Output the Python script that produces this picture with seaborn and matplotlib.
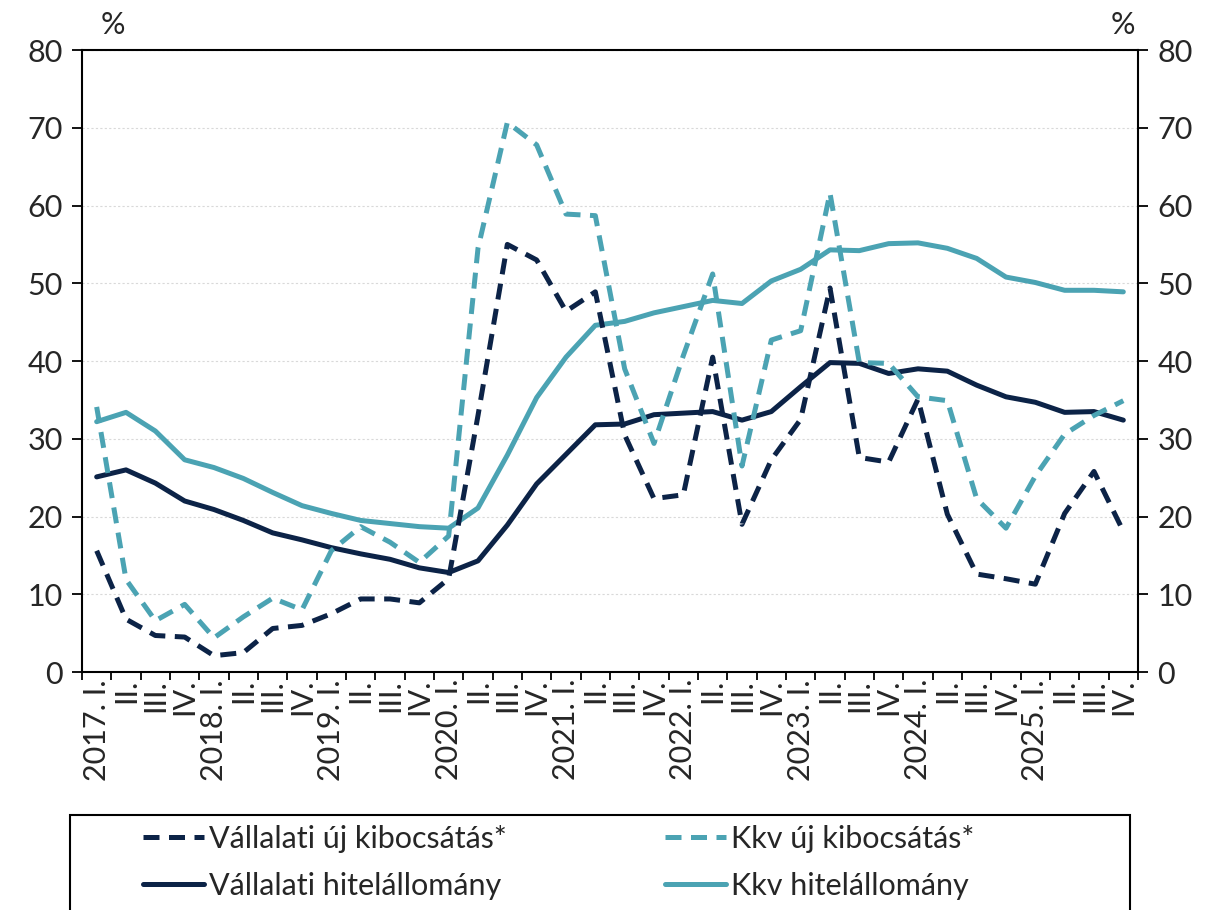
import numpy as np
import pandas as pd
import seaborn as sns
import matplotlib.pyplot as plt
from matplotlib.patches import Rectangle

# quarters 2017 Q1 - 2025 Q4
years = ["2017", "2018", "2019", "2020", "2021", "2022", "2023", "2024", "2025"]
quarters = ["I.", "II.", "III.", "IV."]
labels = []
for y in years:
    for i, q in enumerate(quarters):
        labels.append(f"{y}. {q}" if i == 0 else q)

vall_uj = [15.6, 6.8, 4.7, 4.5, 2.1, 2.5, 5.6, 6.0, 7.5, 9.4, 9.4, 8.9,
           12.0, 33.0, 55.0, 53.0, 46.4, 48.9, 30.5, 22.3, 22.8, 40.5, 19.0, 27.3,
           32.5, 49.4, 27.6, 27.0, 35.1, 20.3, 12.6, 12.0, 11.3, 20.4, 25.8, 18.1]
kkv_uj = [34.1, 11.9, 6.6, 8.7, 4.4, 7.1, 9.5, 8.0, 15.6, 18.7, 16.7, 14.1,
          17.5, 54.5, 70.7, 67.8, 58.9, 58.7, 39.0, 29.4, 40.7, 51.2, 26.5, 42.7,
          43.9, 61.6, 39.8, 39.7, 35.4, 34.9, 22.3, 18.5, 25.2, 30.6, 33.0, 34.9]
vall_allomany = [25.1, 26.0, 24.3, 22.0, 20.9, 19.5, 17.9, 17.0, 16.0, 15.2, 14.5, 13.4,
                 12.8, 14.3, 18.9, 24.2, 28.0, 31.8, 31.9, 33.1, 33.3, 33.5, 32.4, 33.5,
                 36.7, 39.8, 39.7, 38.4, 39.0, 38.7, 36.9, 35.4, 34.7, 33.4, 33.5, 32.4]
kkv_allomany = [32.2, 33.4, 31.0, 27.3, 26.3, 24.9, 23.1, 21.4, 20.4, 19.5, 19.1, 18.7,
                18.5, 21.1, 27.9, 35.3, 40.5, 44.6, 45.1, 46.2, 47.0, 47.8, 47.4, 50.3,
                51.8, 54.3, 54.2, 55.1, 55.2, 54.5, 53.2, 50.8, 50.1, 49.1, 49.1, 48.9]

DARK = "#0c2347"
LIGHT = "#4ba3b3"
FS = 22

sns.set_theme(style="white")
plt.rcParams["font.family"] = ["Lato", "DejaVu Sans"]

fig = plt.figure(figsize=(12.06, 9.10), dpi=100)
ax = fig.add_axes([0.068, 0.2615, 0.8756, 0.6835])

x = np.arange(len(labels))
dash = (0, (3.2, 1.9))
series = [
    (vall_uj, DARK, dash, "Vállalati új kibocsátás*"),
    (vall_allomany, DARK, "-", "Vállalati hitelállomány"),
    (kkv_uj, LIGHT, dash, "Kkv új kibocsátás*"),
    (kkv_allomany, LIGHT, "-", "Kkv hitelállomány"),
]
for vals, col, ls, lab in series:
    sns.lineplot(x=x, y=vals, ax=ax, color=col, linewidth=3.6, linestyle=ls,
                 label=lab, zorder=3 if ls != "-" else 2)

handles, labs = ax.get_legend_handles_labels()
ax.get_legend().remove()

ax.set_xlim(-0.5, len(labels) - 0.5)
ax.set_ylim(0, 80)
ax.set_yticks(range(0, 81, 10))
ax.yaxis.grid(True, color="#d9d9d9", linestyle=(0, (2, 2)), linewidth=0.8)
ax.set_axisbelow(True)

ax.set_xticks(x)
ax.set_xticklabels(labels, rotation=90, ha="center", va="top", fontsize=FS)
ax.set_xticks(np.arange(-0.5, len(labels), 1), minor=True)
ax.tick_params(axis="x", which="major", length=0, pad=5)
ax.tick_params(axis="x", which="minor", length=6, width=1.3, direction="out",
               bottom=True, color="black")
ax.tick_params(axis="y", which="major", length=7, width=1.3, direction="out",
               left=True, right=True, labelleft=True, labelright=True,
               labelsize=FS, color="black", pad=7)
for s in ax.spines.values():
    s.set_color("black")
    s.set_linewidth(1.5)

fig.text(113 / 1206, 1 - 25 / 910, "%", ha="center", va="center", fontsize=FS)
fig.text(1123 / 1206, 1 - 25 / 910, "%", ha="center", va="center", fontsize=FS)

# legend box (cut by the bottom edge as in the original)
fig.patches.append(Rectangle((70 / 1206, -0.02), 1060 / 1206, 0.02 + (910 - 815) / 910,
                             transform=fig.transFigure, fill=False,
                             edgecolor="black", linewidth=1.5))
fig.legend(handles, labs, loc="upper left", bbox_to_anchor=(143 / 1206, 1 - 825 / 910),
           ncol=2, frameon=False, fontsize=FS, handlelength=2.0, handletextpad=0.15,
           columnspacing=5.2, labelspacing=0.62, borderaxespad=0, borderpad=0)

fig.savefig("out.png", dpi=100)
